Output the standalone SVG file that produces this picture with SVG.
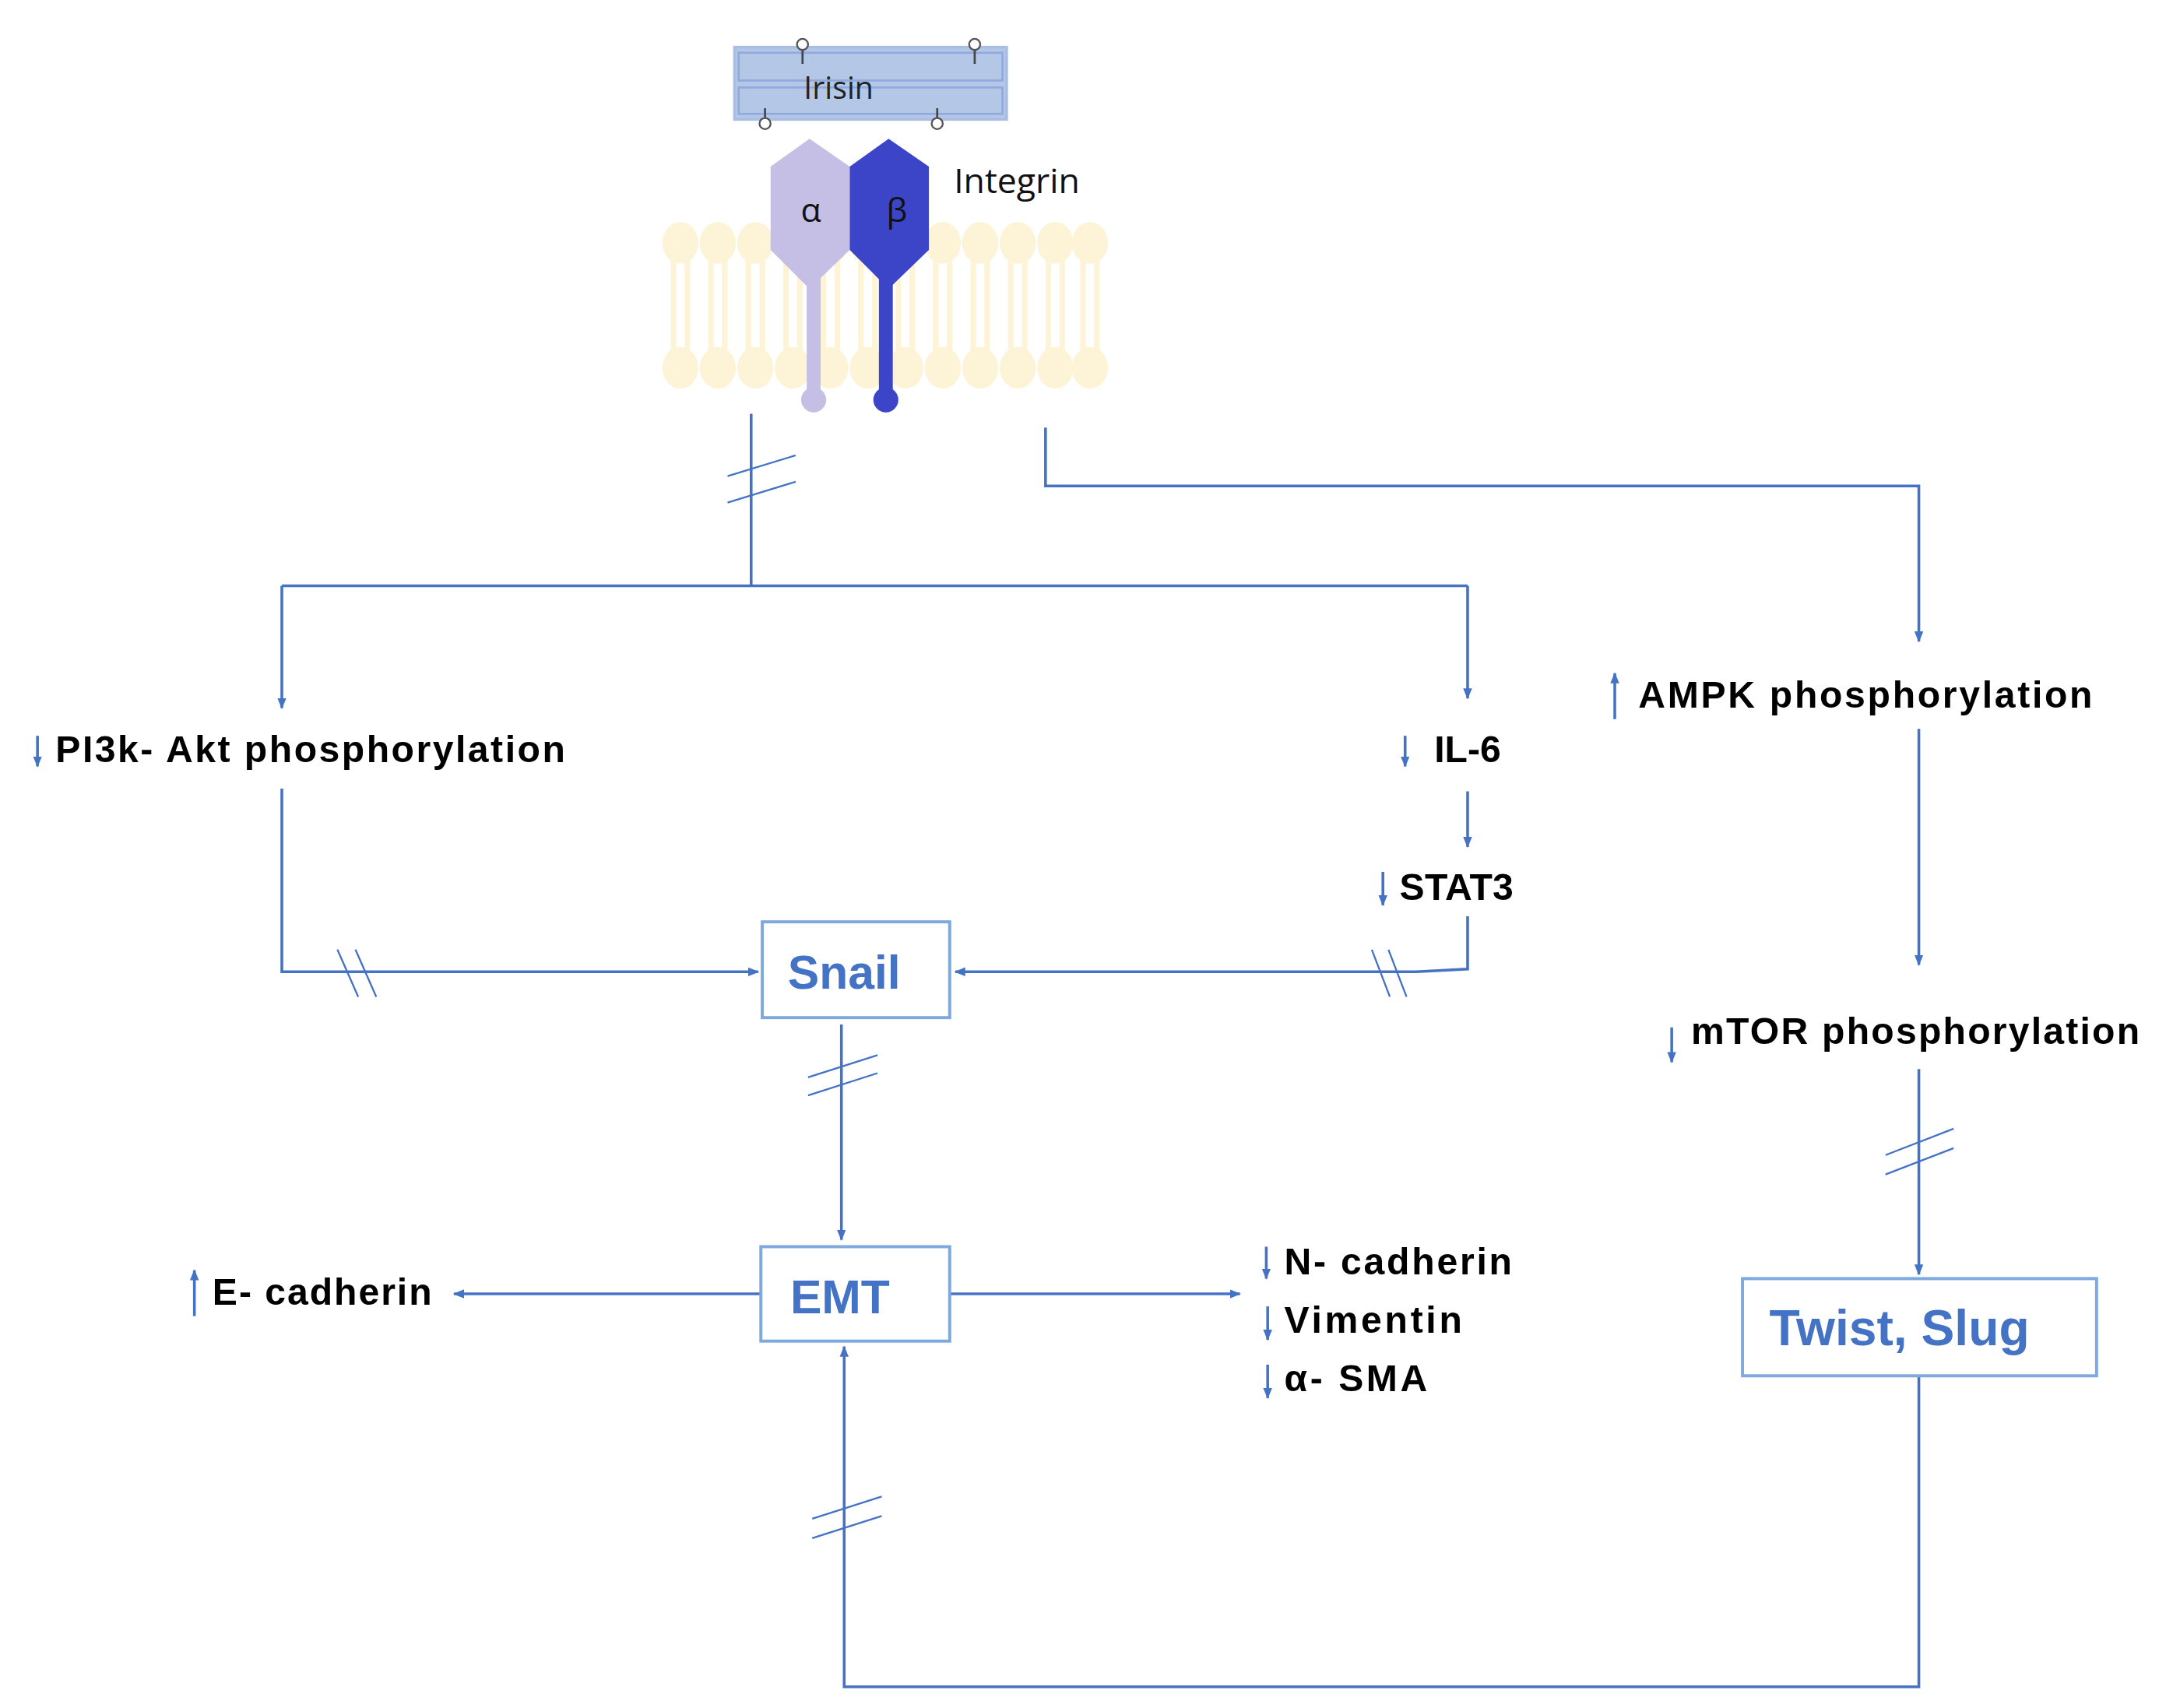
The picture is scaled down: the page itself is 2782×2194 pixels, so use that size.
<svg xmlns="http://www.w3.org/2000/svg" width="2782" height="2194" viewBox="0 0 2782 2194">
<defs>
<style>
.c{fill:none;stroke:#4472C4;stroke-width:2}
.t{font-family:"Liberation Sans",Arial,sans-serif;font-weight:bold;font-size:27px;fill:#000}
.bx{fill:#fff;stroke:#7FA8DC;stroke-width:2.2}
.bt{font-family:"Liberation Sans",Arial,sans-serif;font-weight:bold;fill:#4472C4;text-anchor:middle}
.sa{fill:none;stroke:#4472C4;stroke-width:1.3}
.lip{fill:#FDF3D6}
.pin{fill:#fff;stroke:#555;stroke-width:1.3}
</style>
<marker id="a" viewBox="0 0 10 10" refX="9" refY="5" markerWidth="4" markerHeight="4" orient="auto"><path d="M0,1 L10,5 L0,9 Z" fill="#4472C4"/></marker>
</defs>
<rect width="2782" height="2194" fill="#fff"/>
<g transform="scale(1.78333)">
<g id="membrane">
<g class="lip">
<ellipse cx="490" cy="175" rx="13" ry="15"/><ellipse cx="517" cy="175" rx="13" ry="15"/><ellipse cx="544" cy="175" rx="13" ry="15"/><ellipse cx="571" cy="175" rx="13" ry="15"/><ellipse cx="598" cy="175" rx="13" ry="15"/><ellipse cx="625" cy="175" rx="13" ry="15"/><ellipse cx="652" cy="175" rx="13" ry="15"/><ellipse cx="679" cy="175" rx="13" ry="15"/><ellipse cx="706" cy="175" rx="13" ry="15"/><ellipse cx="733" cy="175" rx="13" ry="15"/><ellipse cx="760" cy="175" rx="13" ry="15"/><ellipse cx="785" cy="175" rx="13" ry="15"/>
<ellipse cx="490" cy="265" rx="13" ry="15"/><ellipse cx="517" cy="265" rx="13" ry="15"/><ellipse cx="544" cy="265" rx="13" ry="15"/><ellipse cx="571" cy="265" rx="13" ry="15"/><ellipse cx="598" cy="265" rx="13" ry="15"/><ellipse cx="625" cy="265" rx="13" ry="15"/><ellipse cx="652" cy="265" rx="13" ry="15"/><ellipse cx="679" cy="265" rx="13" ry="15"/><ellipse cx="706" cy="265" rx="13" ry="15"/><ellipse cx="733" cy="265" rx="13" ry="15"/><ellipse cx="760" cy="265" rx="13" ry="15"/><ellipse cx="785" cy="265" rx="13" ry="15"/>
</g>
<g stroke="#FDF3D6" stroke-width="4">
<path d="M485 185V255M495 185V255M512 185V255M522 185V255M539 185V255M549 185V255M566 185V255M576 185V255M593 185V255M603 185V255M620 185V255M630 185V255M647 185V255M657 185V255M674 185V255M684 185V255M701 185V255M711 185V255M728 185V255M738 185V255M755 185V255M765 185V255M780 185V255M790 185V255"/>
</g>
</g>
<g id="irisin">
<rect x="529" y="34" width="196" height="52" fill="#B4C7E7" stroke="#A9BEE2" stroke-width="2"/>
<rect x="532" y="38" width="190" height="20" fill="none" stroke="#8FAADC" stroke-width="1.5"/>
<rect x="532" y="63" width="190" height="19" fill="none" stroke="#8FAADC" stroke-width="1.5"/>
<text x="604" y="71" font-family="'Open Sans','Liberation Sans',sans-serif" font-size="22" text-anchor="middle" fill="#222">Irisin</text>
<path d="M578 36V46M702 36V46M551 78V86M675 78V86" stroke="#444" stroke-width="1.5"/>
<circle class="pin" cx="578" cy="32" r="4"/><circle class="pin" cx="702" cy="32" r="4"/>
<circle class="pin" cx="551" cy="89" r="4"/><circle class="pin" cx="675" cy="89" r="4"/>
</g>
<g id="integrin">
<path d="M583 100L612 120V180L583 208L555 180V120Z" fill="#C5BEE5"/>
<rect x="581" y="200" width="10" height="88" fill="#C5BEE5"/><circle cx="586" cy="288" r="9" fill="#C5BEE5"/>
<path d="M640 100L669 120V180L640 208L612 180V120Z" fill="#3C45C8"/>
<rect x="633" y="200" width="10" height="88" fill="#3C45C8"/><circle cx="638" cy="288" r="9" fill="#3C45C8"/>
<text x="584" y="160" font-family="'Open Sans','Liberation Sans',sans-serif" font-size="24" text-anchor="middle" fill="#111">α</text>
<text x="646" y="160" font-family="'Open Sans','Liberation Sans',sans-serif" font-size="24" text-anchor="middle" fill="#111">β</text>
<text x="687" y="139" font-family="'Open Sans','Liberation Sans',sans-serif" font-size="25" fill="#111">Integrin</text>
</g>
<g id="connectors">
<path class="c" d="M541 298V422M203 422H1057M203 422V510" marker-end="url(#a)"/>
<path class="c" d="M1057 422V503" marker-end="url(#a)"/>
<path class="sa" d="M524 343L573 328M524 362L573 347"/>
<path class="c" d="M753 308V350H1382V462" marker-end="url(#a)"/>
<path class="c" d="M1057 570V610" marker-end="url(#a)"/>
<path class="c" d="M1382 525V695" marker-end="url(#a)"/>
<path class="c" d="M1382 770V918" marker-end="url(#a)"/>
<path class="sa" d="M1358 832L1407 813M1358 846L1407 827"/>
<path class="c" d="M1382 991V1215H608V970" marker-end="url(#a)"/>
<path class="sa" d="M585 1094L635 1078M585 1108L635 1092"/>
<path class="c" stroke-width="3" d="M203 568V700H546" marker-end="url(#a)"/>
<path class="sa" d="M243 684L258 718M256 684L271 718"/>
<path class="c" stroke-width="3" d="M1057 660V698L1020 700H688" marker-end="url(#a)"/>
<path class="sa" d="M988 684L1001 718M1000 684L1013 718"/>
<path class="c" d="M606 738V893" marker-end="url(#a)"/>
<path class="sa" d="M582 776L632 760M582 789L632 773"/>
<path class="c" stroke-width="3" d="M548 932H327" marker-end="url(#a)"/>
<path class="c" stroke-width="3" d="M684 932H893" marker-end="url(#a)"/>
<path class="c" stroke-width="1.3" d="M27 530V552" marker-end="url(#a)"/>
<path class="c" stroke-width="1.3" d="M1012 530V552" marker-end="url(#a)"/>
<path class="c" stroke-width="1.3" d="M996 628V652" marker-end="url(#a)"/>
<path class="c" stroke-width="1.3" d="M1163 518V485" marker-end="url(#a)"/>
<path class="c" stroke-width="1.3" d="M1204 740V765" marker-end="url(#a)"/>
<path class="c" stroke-width="1.3" d="M140 948V915" marker-end="url(#a)"/>
<path class="c" stroke-width="1.3" d="M912 898V921" marker-end="url(#a)"/>
<path class="c" stroke-width="1.3" d="M913 941V965" marker-end="url(#a)"/>
<path class="c" stroke-width="1.3" d="M913 983V1007" marker-end="url(#a)"/>
</g>
<g id="labels">
<text class="t" x="40" y="549" textLength="367">PI3k- Akt phosphorylation</text>
<text class="t" x="1033" y="549">IL-6</text>
<text class="t" x="1008" y="648" textLength="82">STAT3</text>
<text class="t" x="1180" y="510" textLength="327">AMPK phosphorylation</text>
<text class="t" x="1218" y="752" textLength="323">mTOR phosphorylation</text>
<text class="t" x="153" y="940" textLength="158">E- cadherin</text>
<text class="t" x="925" y="918" textLength="164">N- cadherin</text>
<text class="t" x="925" y="960" textLength="128">Vimentin</text>
<text class="t" x="925" y="1002" textLength="103">α- SMA</text>
</g>
<g id="snail"><rect class="bx" x="549" y="664" width="135" height="69"/><text class="bt" x="608" y="712" font-size="34">Snail</text></g>
<g id="emt"><rect class="bx" x="548" y="898" width="136" height="68"/><text class="bt" x="605" y="946" font-size="34">EMT</text></g>
<g id="twist"><rect class="bx" x="1255" y="921" width="255" height="70"/><text class="bt" x="1368" y="969" font-size="36">Twist, Slug</text></g>
</g>
</svg>
